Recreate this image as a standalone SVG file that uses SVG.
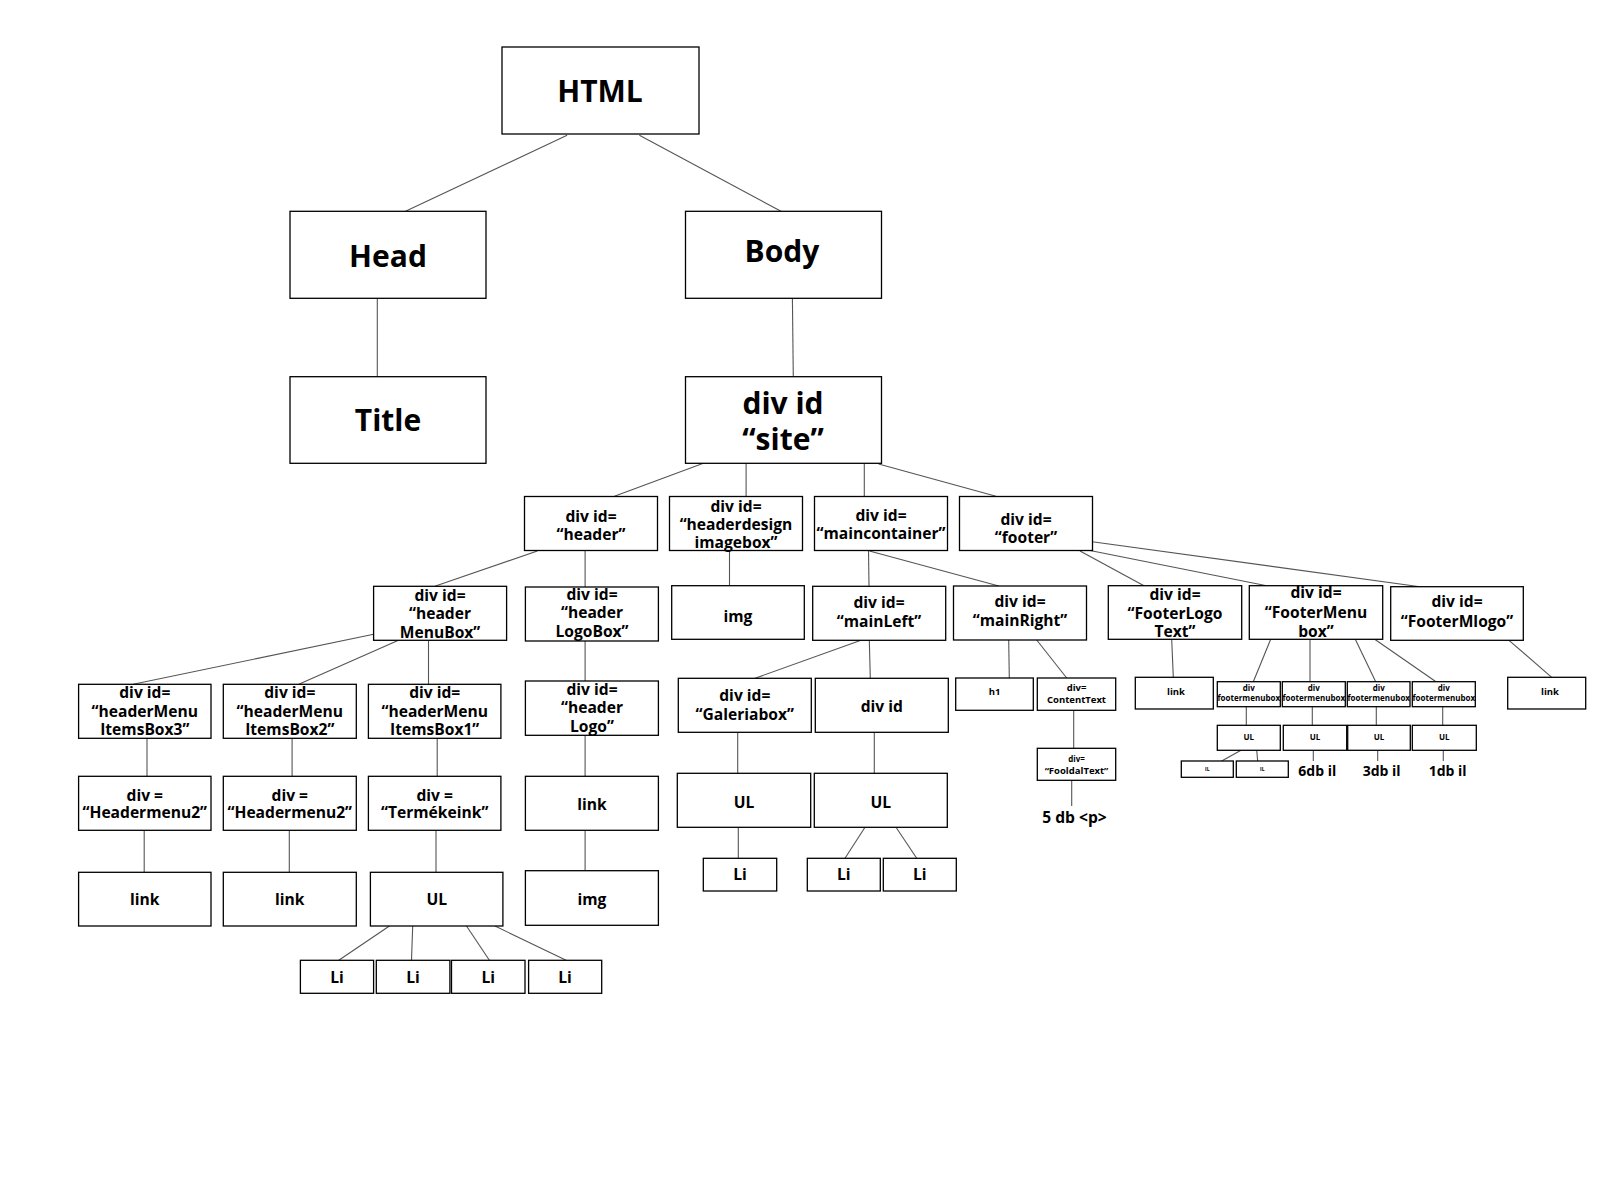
<svg xmlns="http://www.w3.org/2000/svg" width="1600" height="1200" viewBox="0 0 1600 1200">
<style>
.box{fill:#fff;stroke:#000;stroke-width:1.3}
.t{font-family:"Open Sans","Liberation Sans",sans-serif;font-weight:700;text-anchor:middle;fill:#000}
.xl{font-size:30px}
.m{font-size:15.6px}
.s{font-size:9.5px}
.xs{font-size:8px}
.xxs{font-size:5px}
.n{font-size:14px}
.p{font-size:15.6px}
#connectors line{stroke:#555;stroke-width:1.1}
</style>
<rect width="1600" height="1200" fill="#fff"/>
<g id="connectors">
<line x1="567.1" y1="135.3" x2="405.5" y2="211.3"/>
<line x1="639.4" y1="135.3" x2="781" y2="211.3"/>
<line x1="377.3" y1="298.3" x2="377.3" y2="376.7"/>
<line x1="792.4" y1="298.3" x2="793.3" y2="376.7"/>
<line x1="703.4" y1="463.3" x2="614.4" y2="496.3"/>
<line x1="746.1" y1="463.3" x2="746.1" y2="496.3"/>
<line x1="864.3" y1="463.3" x2="864.3" y2="496.3"/>
<line x1="878.6" y1="464" x2="996" y2="496.3"/>
<line x1="537.3" y1="551" x2="434.8" y2="586.3"/>
<line x1="585.1" y1="551" x2="585.1" y2="587"/>
<line x1="729.5" y1="550.5" x2="729.5" y2="585.7"/>
<line x1="868.5" y1="550.5" x2="869" y2="586.3"/>
<line x1="869.5" y1="551" x2="998.8" y2="586"/>
<line x1="1080" y1="551" x2="1144" y2="585.7"/>
<line x1="1090" y1="550.5" x2="1266.7" y2="585.7"/>
<line x1="1092.3" y1="541.7" x2="1420" y2="586.7"/>
<line x1="373.6" y1="634.3" x2="133.2" y2="684.3"/>
<line x1="398.5" y1="640.3" x2="298.8" y2="684.3"/>
<line x1="428.5" y1="640.3" x2="428.5" y2="684.3"/>
<line x1="147" y1="738.3" x2="147" y2="776.3"/>
<line x1="292.1" y1="738.3" x2="292.1" y2="776.3"/>
<line x1="437.2" y1="738.3" x2="437.2" y2="776.3"/>
<line x1="585.1" y1="641" x2="585.1" y2="681"/>
<line x1="585.1" y1="735.3" x2="585.1" y2="776.3"/>
<line x1="144.2" y1="830.3" x2="144.2" y2="872.3"/>
<line x1="289.3" y1="830.3" x2="289.3" y2="872.3"/>
<line x1="436" y1="830.3" x2="436" y2="872.3"/>
<line x1="585.1" y1="830.3" x2="585.1" y2="870.7"/>
<line x1="389.4" y1="926" x2="338.8" y2="960.3"/>
<line x1="412.7" y1="926" x2="411.5" y2="960.3"/>
<line x1="466.5" y1="926" x2="489.4" y2="960.3"/>
<line x1="495" y1="926" x2="566.1" y2="960.3"/>
<line x1="861" y1="640.3" x2="755" y2="678.3"/>
<line x1="869.3" y1="640.3" x2="870.3" y2="678.3"/>
<line x1="737.7" y1="732.3" x2="737.7" y2="773.3"/>
<line x1="874.3" y1="732.3" x2="874.3" y2="773.3"/>
<line x1="738.3" y1="827.3" x2="738.3" y2="858.3"/>
<line x1="865" y1="827.3" x2="845" y2="858.3"/>
<line x1="896" y1="827.3" x2="916.7" y2="858.3"/>
<line x1="1008.7" y1="640" x2="1009.3" y2="678"/>
<line x1="1036.7" y1="640" x2="1066.7" y2="678"/>
<line x1="1073.7" y1="710.3" x2="1073.7" y2="748.3"/>
<line x1="1071.7" y1="780.3" x2="1071.7" y2="806"/>
<line x1="1171.7" y1="639.3" x2="1173.3" y2="677.3"/>
<line x1="1270.7" y1="639.3" x2="1253.3" y2="681.7"/>
<line x1="1310" y1="639.3" x2="1310" y2="681.7"/>
<line x1="1355.3" y1="639.3" x2="1375.7" y2="681.7"/>
<line x1="1374.7" y1="639.3" x2="1436" y2="681.7"/>
<line x1="1509" y1="640.3" x2="1551.7" y2="677.3"/>
<line x1="1246.3" y1="706.7" x2="1246.3" y2="725.3"/>
<line x1="1312.3" y1="706.7" x2="1312.3" y2="725.3"/>
<line x1="1376.3" y1="706.7" x2="1376.3" y2="725.3"/>
<line x1="1442.7" y1="706.7" x2="1442.7" y2="725.3"/>
<line x1="1241" y1="750.3" x2="1221.7" y2="761"/>
<line x1="1256.7" y1="750.3" x2="1257.7" y2="761"/>
<line x1="1313.3" y1="750.3" x2="1313.3" y2="761"/>
<line x1="1377.7" y1="750.3" x2="1377.7" y2="761"/>
<line x1="1443.3" y1="750.3" x2="1443.3" y2="761"/>
</g>
<g id="html"><rect class="box" x="502" y="47" width="197" height="87"/><text class="t xl" x="600" y="101.7">HTML</text></g>
<g id="head"><rect class="box" x="290" y="211.3" width="196" height="87"/><text class="t xl" x="388" y="267">Head</text></g>
<g id="body"><rect class="box" x="685.5" y="211.3" width="196" height="87"/><text class="t xl" x="782" y="262">Body</text></g>
<g id="title"><rect class="box" x="290" y="376.7" width="196" height="86.6"/><text class="t xl" x="388" y="431">Title</text></g>
<g id="site"><rect class="box" x="685.5" y="376.7" width="196" height="86.6"/><text class="t xl" x="783" y="414">div id</text><text class="t xl" x="783" y="450">“site”</text></g>

<g id="header"><rect class="box" x="524.5" y="496.5" width="133" height="54"/><text class="t m" x="591" y="521.7">div id=</text><text class="t m" x="591" y="539.5">“header”</text></g>
<g id="headerdesign"><rect class="box" x="669.5" y="496.5" width="133" height="54"/><text class="t m" x="736" y="511.7">div id=</text><text class="t m" x="736" y="530">“headerdesign</text><text class="t m" x="736" y="547.5">imagebox”</text></g>
<g id="maincontainer"><rect class="box" x="814.5" y="496.5" width="133" height="54"/><text class="t m" x="881" y="520.7">div id=</text><text class="t m" x="881" y="539.3">“maincontainer”</text></g>
<g id="footer"><rect class="box" x="959.5" y="496.5" width="133" height="54"/><text class="t m" x="1026" y="525">div id=</text><text class="t m" x="1026" y="543.3">“footer”</text></g>

<g id="headerMenuBox"><rect class="box" x="373.6" y="586.3" width="133" height="54"/><text class="t m" x="440" y="601">div id=</text><text class="t m" x="440" y="619.3">“header</text><text class="t m" x="440" y="637.7">MenuBox”</text></g>
<g id="headerLogoBox"><rect class="box" x="525.4" y="587" width="133" height="54"/><text class="t m" x="592" y="600">div id=</text><text class="t m" x="592" y="618.3">“header</text><text class="t m" x="592" y="636.7">LogoBox”</text></g>
<g id="img1"><rect class="box" x="671.7" y="585.7" width="132.6" height="53.6"/><text class="t m" x="738" y="621.7">img</text></g>
<g id="mainLeft"><rect class="box" x="812.7" y="586.3" width="133" height="54"/><text class="t m" x="879" y="607.7">div id=</text><text class="t m" x="879" y="627.3">“mainLeft”</text></g>
<g id="mainRight"><rect class="box" x="953.5" y="586" width="133" height="54"/><text class="t m" x="1020" y="606.7">div id=</text><text class="t m" x="1020" y="626">“mainRight”</text></g>
<g id="footerLogoText"><rect class="box" x="1108.3" y="585.7" width="133.4" height="53.6"/><text class="t m" x="1175" y="600">div id=</text><text class="t m" x="1175" y="619.3">“FooterLogo</text><text class="t m" x="1175" y="637.3">Text”</text></g>
<g id="footerMenubox"><rect class="box" x="1249.3" y="585.7" width="133.4" height="53.6"/><text class="t m" x="1316" y="598.3">div id=</text><text class="t m" x="1316" y="618.3">“FooterMenu</text><text class="t m" x="1316" y="637.3">box”</text></g>
<g id="footerMlogo"><rect class="box" x="1390.7" y="586.7" width="132.6" height="53.6"/><text class="t m" x="1457" y="607.3">div id=</text><text class="t m" x="1457" y="626.7">“FooterMlogo”</text></g>

<g id="itemsBox3"><rect class="box" x="78.6" y="684.3" width="132.4" height="54"/><text class="t m" x="144.8" y="698.3">div id=</text><text class="t m" x="144.8" y="716.7">“headerMenu</text><text class="t m" x="144.8" y="735">ItemsBox3”</text></g>
<g id="itemsBox2"><rect class="box" x="223.3" y="684.3" width="133" height="54"/><text class="t m" x="289.8" y="698.3">div id=</text><text class="t m" x="289.8" y="716.7">“headerMenu</text><text class="t m" x="289.8" y="735">ItemsBox2”</text></g>
<g id="itemsBox1"><rect class="box" x="368.4" y="684.3" width="132.5" height="54"/><text class="t m" x="434.7" y="698.3">div id=</text><text class="t m" x="434.7" y="716.7">“headerMenu</text><text class="t m" x="434.7" y="735">ItemsBox1”</text></g>
<g id="headerLogo"><rect class="box" x="525.4" y="681" width="133" height="54.3"/><text class="t m" x="592" y="695">div id=</text><text class="t m" x="592" y="713.3">“header</text><text class="t m" x="592" y="731.7">Logo”</text></g>
<g id="galeriabox"><rect class="box" x="678.3" y="678.3" width="133" height="54"/><text class="t m" x="744.8" y="700.7">div id=</text><text class="t m" x="744.8" y="720">“Galeriabox”</text></g>
<g id="divid"><rect class="box" x="815.3" y="678.3" width="133" height="54"/><text class="t m" x="881.8" y="711.7">div id</text></g>
<g id="h1"><rect class="box" x="955.7" y="678" width="77.6" height="32.3"/><text class="t s" x="994.5" y="695">h1</text></g>
<g id="contentText"><rect class="box" x="1037.3" y="678" width="78.4" height="32.3"/><text class="t s" x="1076.5" y="690.7">div=</text><text class="t s" x="1076.5" y="703.3">ContentText</text></g>
<g id="link5"><rect class="box" x="1135.3" y="677.3" width="78" height="31.7"/><text class="t s" x="1176" y="695">link</text></g>
<g id="fmb1"><rect class="box" x="1217.3" y="681.7" width="63" height="25"/><text class="t xs" x="1248.8" y="691">div</text><text class="t xs" x="1248.8" y="700.7">footermenubox</text></g>
<g id="fmb2"><rect class="box" x="1282.3" y="681.7" width="63" height="25"/><text class="t xs" x="1313.8" y="691">div</text><text class="t xs" x="1313.8" y="700.7">footermenubox</text></g>
<g id="fmb3"><rect class="box" x="1347.3" y="681.7" width="62.7" height="25"/><text class="t xs" x="1378.7" y="691">div</text><text class="t xs" x="1378.7" y="700.7">footermenubox</text></g>
<g id="fmb4"><rect class="box" x="1412.3" y="681.7" width="63" height="25"/><text class="t xs" x="1443.8" y="691">div</text><text class="t xs" x="1443.8" y="700.7">footermenubox</text></g>
<g id="link6"><rect class="box" x="1507.7" y="677.3" width="78" height="31.7"/><text class="t s" x="1550" y="695">link</text></g>

<g id="hm3"><rect class="box" x="78.6" y="776.3" width="132.4" height="54"/><text class="t m" x="144.8" y="800.7">div =</text><text class="t m" x="144.8" y="818.3">“Headermenu2”</text></g>
<g id="hm2"><rect class="box" x="223.3" y="776.3" width="133" height="54"/><text class="t m" x="289.8" y="800.7">div =</text><text class="t m" x="289.8" y="818.3">“Headermenu2”</text></g>
<g id="termekeink"><rect class="box" x="368.4" y="776.3" width="132.5" height="54"/><text class="t m" x="434.7" y="800.7">div =</text><text class="t m" x="434.7" y="818.3">“Termékeink”</text></g>
<g id="link4"><rect class="box" x="525.4" y="776.3" width="133" height="54"/><text class="t m" x="592" y="810">link</text></g>
<g id="ul1"><rect class="box" x="677.3" y="773.3" width="133.4" height="54"/><text class="t m" x="744" y="807.7">UL</text></g>
<g id="ul2"><rect class="box" x="814.3" y="773.3" width="133" height="54"/><text class="t m" x="880.8" y="807.7">UL</text></g>
<g id="fooldalText"><rect class="box" x="1037.3" y="748.3" width="78.4" height="32"/><text class="t xs" x="1076.5" y="762.3">div=</text><text class="t s" x="1076.5" y="773.6">“FooldalText”</text></g>
<g id="ful1"><rect class="box" x="1217.3" y="725.3" width="63" height="25"/><text class="t xs" x="1248.8" y="740">UL</text></g>
<g id="ful2"><rect class="box" x="1283.3" y="725.3" width="63.4" height="25"/><text class="t xs" x="1315" y="740">UL</text></g>
<g id="ful3"><rect class="box" x="1347.7" y="725.3" width="62.6" height="25"/><text class="t xs" x="1379" y="740">UL</text></g>
<g id="ful4"><rect class="box" x="1412.3" y="725.3" width="64" height="25"/><text class="t xs" x="1444.3" y="740">UL</text></g>

<g id="link1"><rect class="box" x="78.6" y="872.3" width="132.4" height="53.7"/><text class="t m" x="144.8" y="905">link</text></g>
<g id="link2"><rect class="box" x="223.3" y="872.3" width="133" height="53.7"/><text class="t m" x="289.8" y="905">link</text></g>
<g id="ul0"><rect class="box" x="370.4" y="872.3" width="132.5" height="53.7"/><text class="t m" x="436.7" y="905">UL</text></g>
<g id="img2"><rect class="box" x="525.4" y="870.7" width="133" height="54.6"/><text class="t m" x="592" y="905">img</text></g>
<g id="li5"><rect class="box" x="703.3" y="858.3" width="73.4" height="32.7"/><text class="t m" x="740" y="880">Li</text></g>
<g id="li6"><rect class="box" x="807.3" y="858.3" width="73" height="32.7"/><text class="t m" x="843.8" y="880">Li</text></g>
<g id="li7"><rect class="box" x="883.3" y="858.3" width="73" height="32.7"/><text class="t m" x="919.8" y="880">Li</text></g>
<g id="p5"><text class="t p" x="1074.5" y="823.3">5 db &lt;p&gt;</text></g>
<g id="il1"><rect class="box" x="1181.3" y="761" width="52" height="16.3"/><text class="t xxs" x="1207.3" y="771.2">IL</text></g>
<g id="il2"><rect class="box" x="1236.3" y="761" width="52" height="16.3"/><text class="t xxs" x="1262.3" y="771.2">IL</text></g>
<g id="db6"><text class="t n" x="1317.3" y="776">6db il</text></g>
<g id="db3"><text class="t n" x="1381.7" y="776">3db il</text></g>
<g id="db1"><text class="t n" x="1447.7" y="776">1db il</text></g>

<g id="li1"><rect class="box" x="300.4" y="960.3" width="73.2" height="33"/><text class="t m" x="337" y="983.3">Li</text></g>
<g id="li2"><rect class="box" x="376.3" y="960.3" width="73.6" height="33"/><text class="t m" x="413" y="983.3">Li</text></g>
<g id="li3"><rect class="box" x="451.5" y="960.3" width="73.5" height="33"/><text class="t m" x="488.3" y="983.3">Li</text></g>
<g id="li4"><rect class="box" x="528.6" y="960.3" width="73.1" height="33"/><text class="t m" x="565" y="983.3">Li</text></g>
</svg>
